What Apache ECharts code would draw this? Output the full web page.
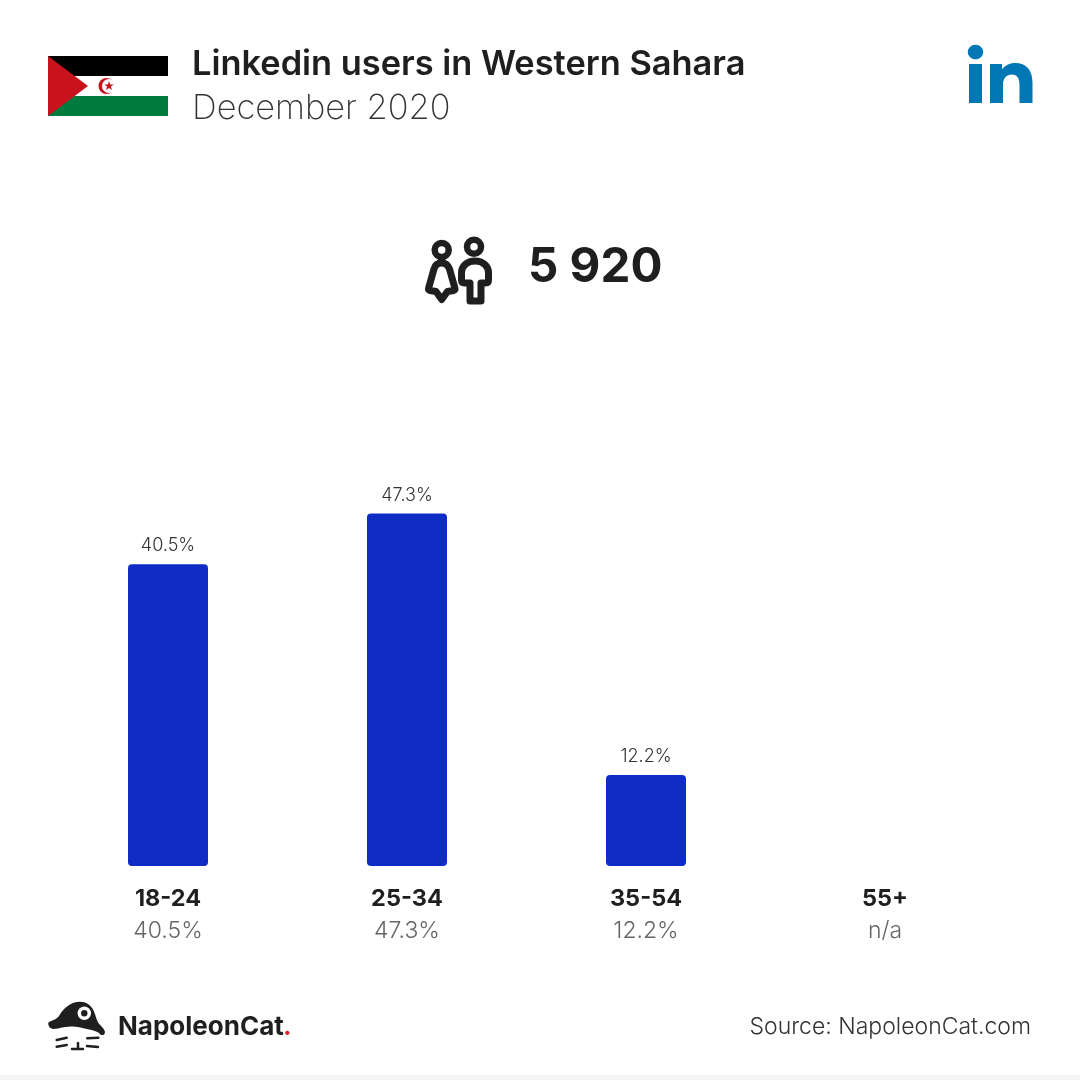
<!DOCTYPE html>
<html><head><meta charset="utf-8">
<style>html,body{margin:0;padding:0;background:#fff}#c{width:1080px;height:1080px}</style>
<script src="https://cdn.jsdelivr.net/npm/echarts@6/dist/echarts.min.js"></script>
</head><body><div id="c"></div>
<script>
const titleText = 'Linkedin users in Western Sahara';
const subtitleText = 'December 2020';
const totalText = '5 920';
const sourceText = 'Source: NapoleonCat.com';
const brandText = 'NapoleonCat';
const categories = ['18-24', '25-34', '35-54', '55+'];
const shares = [40.5, 47.3, 12.2, null];
const noData = 'n/a';

const FONT = 'Inter, "Noto Sans", sans-serif';
const INK = '#1f1f1f';
const fmt = v => v == null ? noData : v.toFixed(1) + '%';
const star = (cx, cy, R, r) => {
  const p = [];
  for (let i = 0; i < 10; i++) {
    const a = -Math.PI / 2 + i * Math.PI / 5, d = i % 2 ? r : R;
    p.push([cx + d * Math.cos(a), cy + d * Math.sin(a)]);
  }
  return p;
};
const txt = (x, y, text, size, weight, fill, align) => ({
  type: 'text', x, y,
  style: { text, fontFamily: FONT, fontSize: size, fontWeight: weight, fill, textAlign: align || 'left', textVerticalAlign: 'middle' }
});
const rect = (x, y, width, height, fill) => ({ type: 'rect', shape: { x, y, width, height }, style: { fill } });
const stroke6 = { fill: 'none', stroke: INK, lineWidth: 6.5, lineJoin: 'round', lineCap: 'round' };
let shapeId = 0;
const pathEl = (d, style) => {
  const name = 'glyph' + (shapeId++);
  echarts.graphic.registerShape(name, echarts.graphic.extendPath(d));
  return { type: name, style };
};

const chart = echarts.init(document.getElementById('c'), null, { renderer: 'canvas', width: 1080, height: 1080 });
chart.setOption({
  animation: false,
  backgroundColor: '#ffffff',
  grid: { left: 48.5, right: 75.5, top: 493.5, bottom: 214, containLabel: false },
  xAxis: {
    type: 'category', data: categories,
    axisLine: { show: false }, axisTick: { show: false },
    axisLabel: {
      margin: 17,
      interval: 0,
      formatter: (name, i) => '{a|' + name + '}\n{b|' + fmt(shares[i]) + '}',
      rich: {
        a: { fontFamily: FONT, fontSize: 23.5, fontWeight: 700, color: INK, lineHeight: 32, align: 'center' },
        b: { fontFamily: FONT, fontSize: 23, fontWeight: 300, color: '#666666', lineHeight: 32, align: 'center' }
      }
    }
  },
  yAxis: { type: 'value', min: 0, max: 50, show: false, splitLine: { show: false } },
  series: [{
    type: 'bar', data: shares, barWidth: 80,
    itemStyle: { color: '#0f2cc4', borderRadius: 4 },
    label: {
      show: true, position: 'top', distance: 9.5,
      formatter: p => fmt(p.value),
      fontFamily: FONT, fontSize: 18, fontWeight: 300, color: '#333333'
    }
  }],
  graphic: [
    rect(0, 1075, 1080, 5, '#f5f5f5'),
    // flag
    rect(48, 56, 120, 20, '#000000'),
    rect(48, 76, 120, 20, '#ffffff'),
    rect(48, 96, 120, 20, '#007a3d'),
    { type: 'polygon', shape: { points: [[48, 56], [88, 86], [48, 116]] }, style: { fill: '#c8121c' } },
    { type: 'circle', shape: { cx: 106.5, cy: 86, r: 8 }, style: { fill: '#c8121c' } },
    { type: 'circle', shape: { cx: 109, cy: 86, r: 7 }, style: { fill: '#ffffff' } },
    { type: 'polygon', shape: { points: star(109, 86, 5, 2) }, style: { fill: '#c8121c' } },
    // heading
    txt(192, 65, titleText, 34.4, 600, INK),
    txt(192, 109, subtitleText, 34.4, 200, '#333333'),
    // linkedin mark
    { type: 'ellipse', shape: { cx: 975.5, cy: 52, rx: 7.7, ry: 7.3 }, style: { fill: '#0077b5' } },
    rect(969, 64, 13, 39, '#0077b5'),
    pathEl('M990 64H1002V69.5C1005 65.5 1009.5 63 1015 63C1026.5 63 1032.5 70 1032.5 83V103H1019.5V85C1019.5 78 1017 74.5 1012 74.5C1006.5 74.5 1003 78 1003 85V103H990Z', { fill: '#0077b5' }),
    // people icon
    { type: 'circle', shape: { cx: 441.7, cy: 250, r: 7 }, style: stroke6 },
    { type: 'circle', shape: { cx: 474, cy: 246.7, r: 7 }, style: stroke6 },
    pathEl('M441.7 263C437 263 435 265 434 269L428.5 288.5Q428 290 430 290.5L436 291.5L441.7 299.5L447.5 291.5L453.5 290.5Q455.5 290 455 288.5L449.5 269C448 265 446 263 441.7 263Z', { ...stroke6, lineWidth: 7 }),
    pathEl('M475 261C467 261 461.5 266 461.5 273V280C461.5 282 462.5 283 464.5 283H470V301H481V283H485.5C487.5 283 488.5 282 488.5 280V273C488.5 266 483 261 475 261Z', { ...stroke6, lineWidth: 7 }),
    txt(528, 268, totalText, 47.5, 700, INK),
    // footer
    pathEl('M48.3 1022.7C52 1020 56 1020 59 1016C61 1012 64 1009 66.7 1006.7C71 1003 76 1001.7 80 1001.7C86 1001.7 91 1005 93.3 1010C95.5 1014 96 1019 98.3 1023C100.5 1026 104 1028 105 1031.7C105 1034 103.5 1035.5 101.7 1035C99 1034 99 1032 96.7 1031.7C93 1030.5 90 1029.5 86.7 1029C82 1028 79 1026.7 75 1026.7C71 1026.2 68 1027 65 1027C61 1027.5 57 1029 53.3 1029C50 1028.5 48 1026 48.3 1022.7Z', { fill: INK }),
    { type: 'circle', shape: { cx: 84.3, cy: 1013.3, r: 6.7 }, style: { fill: '#ffffff' } },
    { type: 'circle', shape: { cx: 84.3, cy: 1013.3, r: 3.2 }, style: { fill: INK } },
    pathEl('M56.7 1040L66.7 1037.7M56.7 1046.7L66.7 1045M87.3 1038.3L98.3 1037.7M87 1046L98 1047M72 1049H83M78 1043V1049', { fill: 'none', stroke: INK, lineWidth: 2.5, lineCap: 'round' }),
    txt(118, 1027, brandText, 26, 700, INK),
    txt(283, 1027, '.', 26, 700, '#e0202f'),
    txt(1031, 1027, sourceText, 23, 300, '#333333', 'right')
  ]
});
</script></body></html>
